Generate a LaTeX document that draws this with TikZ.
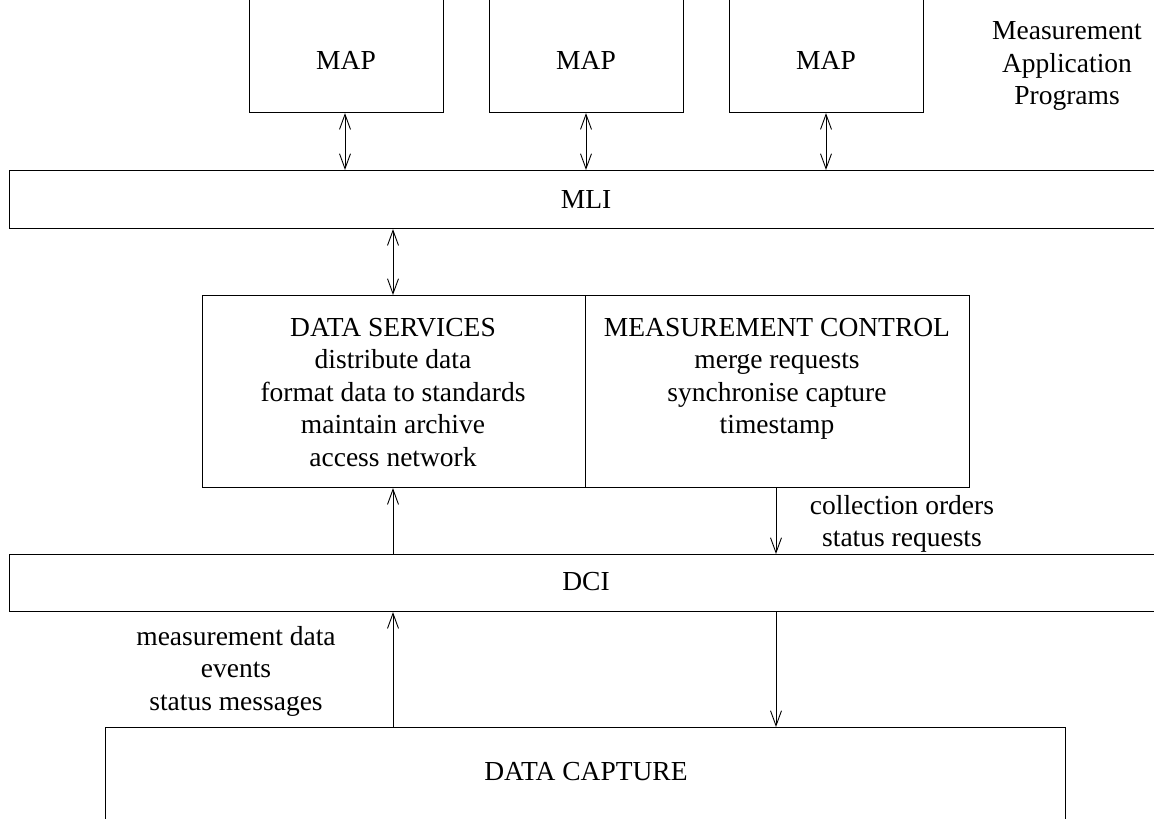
\documentclass[tikz,border=0pt]{standalone}
\usepackage{fontspec}
\setmainfont{Liberation Serif}
\usetikzlibrary{arrows.meta}
\begin{document}
\begin{tikzpicture}[x=1pt,y=-1pt,
  box/.style={draw, line width=1.1pt, inner sep=0pt, anchor=north west},
  txt/.style={font=\fontsize{27.5}{32.5}\selectfont, align=center, inner sep=0pt},
  conn/.style={line width=1pt, >={Straight Barb[length=15pt,width=11pt,line width=0.9pt]}}
]
\useasboundingbox (0,0) rectangle (1154,819);
\clip (0,0) rectangle (1154,819);
% MAP boxes (top edge above the page)
\node[box, minimum width=194pt, minimum height=132pt] (map1) at (249,-20) {};
\node[box, minimum width=194pt, minimum height=132pt] (map2) at (489,-20) {};
\node[box, minimum width=194pt, minimum height=132pt] (map3) at (729,-20) {};
\node[txt] (l1) at (346,60) {MAP};
\node[txt] (l2) at (586,60) {MAP};
\node[txt] (l3) at (826,60) {MAP};
\node[txt] (mapp) at (1067,66) {Measurement\\Application\\Programs};
% MLI bar
\node[box, minimum width=1170pt, minimum height=58pt] (mli) at (9,170) {};
\node[txt] (mlit) at (586,199) {MLI};
% middle box
\node[box, minimum width=383pt, minimum height=192pt] (ds) at (202,295) {};
\node[box, minimum width=384pt, minimum height=192pt] (mc) at (585,295) {};
\node[txt, anchor=north] (dst) at (393,318) {DATA SERVICES\\distribute data\\format data to standards\\maintain archive\\access network};
\node[txt, anchor=north] (mct) at (777,318) {MEASUREMENT CONTROL\\merge requests\\synchronise capture\\timestamp};
% DCI bar
\node[box, minimum width=1170pt, minimum height=57pt] (dci) at (9,554) {};
\node[txt] (dcit) at (586,582) {DCI};
% data capture
\node[box, minimum width=960pt, minimum height=120pt] (cap) at (105,727) {};
\node[txt] (capt) at (586,772) {DATA CAPTURE};
% labels
\node[txt] (co) at (902,524) {collection orders\\status requests};
\node[txt] (md) at (236,671) {measurement data\\events\\status messages};
% connectors
\coordinate (a1) at (345,0); \coordinate (a2) at (586,0); \coordinate (a3) at (826,0);
\draw[conn,<->] (a1 |- map1.south) -- (a1 |- mli.north);
\draw[conn,<->] (a2 |- map2.south) -- (a2 |- mli.north);
\draw[conn,<->] (a3 |- map3.south) -- (a3 |- mli.north);
\coordinate (b1) at (393,0); \coordinate (b2) at (776,0);
\draw[conn,<->] (b1 |- mli.south) -- (b1 |- ds.north);
\draw[conn,->] (b1 |- dci.north) -- (b1 |- ds.south);
\draw[conn,->] (b2 |- mc.south) -- (b2 |- dci.north);
\draw[conn,->] (b1 |- cap.north) -- (b1 |- dci.south);
\draw[conn,->] (b2 |- dci.south) -- (b2 |- cap.north);
\end{tikzpicture}
\end{document}
